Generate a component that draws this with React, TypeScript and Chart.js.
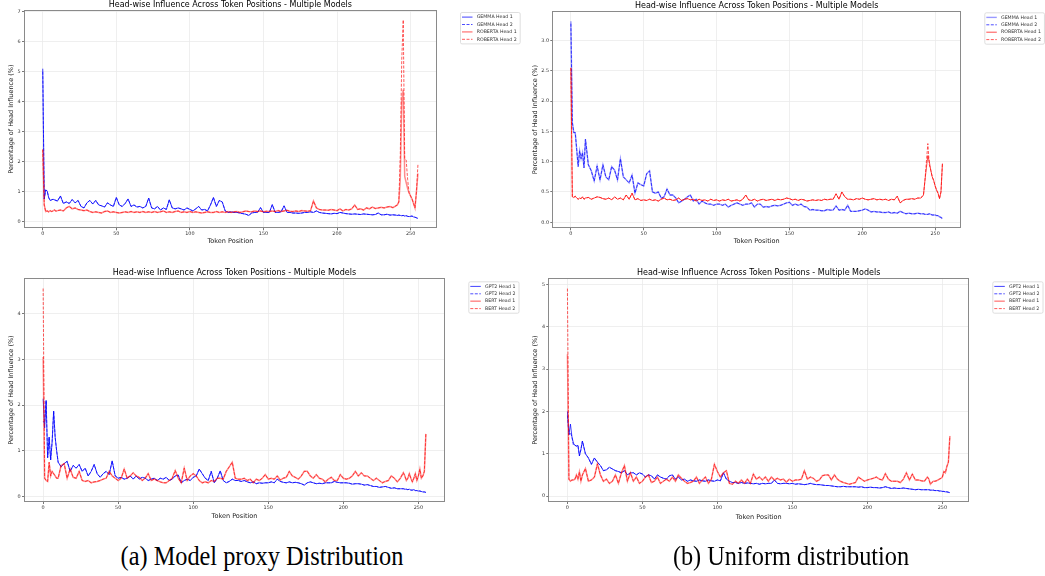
import React, { useEffect, useRef } from "react";
import { Chart, registerables } from "chart.js";

Chart.register(...registerables);

const FONT = "'DejaVu Sans', sans-serif";
const CHART_TITLE = "Head-wise Influence Across Token Positions - Multiple Models";
const X_LABEL = "Token Position";
const Y_LABEL = "Percentage of Head Influence (%)";

const tokenPositions = [
  0, 1, 2, 3, 4, 5, 6, 7, 8, 9, 10,
  12, 14, 16, 18, 20, 22, 24, 26, 28, 30,
  32, 34, 36, 38, 40, 42, 44, 46, 48, 50,
  52, 54, 56, 58, 60, 62, 64, 66, 68, 70,
  72, 74, 76, 78, 80, 82, 84, 86, 88, 90,
  92, 94, 96, 98, 100, 102, 104, 106, 108, 110,
  112, 114, 116, 118, 120, 122, 124, 126, 128, 130,
  132, 134, 136, 138, 140, 142, 144, 146, 148, 150,
  152, 154, 156, 158, 160, 162, 164, 166, 168, 170,
  172, 174, 176, 178, 180, 182, 184, 186, 188, 190,
  192, 194, 196, 198, 200, 202, 204, 206, 208, 210,
  212, 214, 216, 218, 220, 222, 224, 226, 228, 230,
  232, 234, 236, 238, 240,
  241, 242, 243, 244, 245, 246, 247, 248, 249, 250, 251, 252, 253, 254, 255,
];

const xTicks = [0, 50, 100, 150, 200, 250];
const xTickLabels = ["0", "50", "100", "150", "200", "250"];
const yTicksProxyTop = [0, 1, 2, 3, 4, 5, 6, 7];
const yTickLabelsProxyTop = ["0", "1", "2", "3", "4", "5", "6", "7"];
const yTicksUniformTop = [0, 0.5, 1, 1.5, 2, 2.5, 3];
const yTickLabelsUniformTop = ["0.0", "0.5", "1.0", "1.5", "2.0", "2.5", "3.0"];
const yTicksProxyBottom = [0, 1, 2, 3, 4];
const yTickLabelsProxyBottom = ["0", "1", "2", "3", "4"];
const yTicksUniformBottom = [0, 1, 2, 3, 4, 5];
const yTickLabelsUniformBottom = ["0", "1", "2", "3", "4", "5"];

// (a) Model proxy distribution, top: GEMMA / ROBERTA
const gemmaProxyHead1 = [
  5.1, 0.75, 1.05, 1.02, 0.8, 0.7, 0.72, 0.74, 0.72, 0.7, 0.68,
  0.85, 0.6, 0.65, 0.6, 0.73, 0.62, 0.7, 0.5, 0.45, 0.62,
  0.7, 0.58, 0.7, 0.55, 0.52, 0.48, 0.62, 0.55, 0.5, 0.8,
  0.55, 0.5, 0.6, 0.75, 0.5, 0.55, 0.48, 0.5, 0.45, 0.5,
  0.78, 0.45, 0.42, 0.5, 0.38, 0.45, 0.4, 0.72, 0.45, 0.42,
  0.45, 0.42, 0.38, 0.45, 0.4, 0.35, 0.42, 0.5, 0.38, 0.4,
  0.35, 0.55, 0.8, 0.5, 0.7, 0.65, 0.35, 0.3, 0.32, 0.3,
  0.3, 0.28, 0.26, 0.24, 0.2, 0.28, 0.3, 0.3, 0.46, 0.3,
  0.3, 0.3, 0.56, 0.3, 0.3, 0.32, 0.52, 0.3, 0.3, 0.28,
  0.28, 0.27, 0.28, 0.3, 0.3, 0.32, 0.3, 0.35, 0.3, 0.28,
  0.27, 0.26, 0.25, 0.27, 0.26, 0.3, 0.28, 0.26, 0.25, 0.24,
  0.25, 0.24, 0.23, 0.25, 0.24, 0.23, 0.22, 0.23, 0.28, 0.22,
  0.22, 0.24, 0.21, 0.22, 0.21,
  0.2, 0.21, 0.2, 0.19, 0.2, 0.18, 0.19, 0.17, 0.16, 0.17, 0.18, 0.15, 0.14, 0.12, 0.1,
];
const gemmaProxyHead2Peaks = [[0, 5.0]];
const robertaProxyHead1 = [
  2.4, 0.55, 0.33, 0.35, 0.32, 0.36, 0.33, 0.35, 0.38, 0.34, 0.36,
  0.38, 0.35, 0.45, 0.5, 0.42, 0.45, 0.4, 0.38, 0.36, 0.38,
  0.33, 0.3, 0.32, 0.3, 0.28, 0.33, 0.35, 0.3, 0.32, 0.3,
  0.28, 0.3, 0.32, 0.3, 0.33, 0.3, 0.32, 0.3, 0.33, 0.3,
  0.32, 0.3, 0.33, 0.3, 0.32, 0.35, 0.3, 0.32, 0.3, 0.33,
  0.35, 0.3, 0.32, 0.3, 0.33, 0.3, 0.32, 0.3, 0.28, 0.3,
  0.32, 0.3, 0.3, 0.33, 0.3, 0.32, 0.3, 0.33, 0.3, 0.32,
  0.33, 0.3, 0.32, 0.35, 0.33, 0.32, 0.35, 0.33, 0.35, 0.32,
  0.34, 0.33, 0.35, 0.33, 0.36, 0.33, 0.35, 0.37, 0.34, 0.33,
  0.35, 0.33, 0.36, 0.35, 0.34, 0.36, 0.68, 0.45, 0.4, 0.38,
  0.38, 0.37, 0.4, 0.38, 0.36, 0.42, 0.35, 0.4, 0.38, 0.42,
  0.55, 0.4, 0.42, 0.38, 0.45, 0.42, 0.48, 0.43, 0.45, 0.47,
  0.45, 0.48, 0.5, 0.46, 0.52,
  0.55, 0.65, 1.4, 4.0, 4.4, 1.5, 1.3, 1.1, 0.95, 0.85, 0.75, 0.6, 0.45, 1.0, 1.6,
];
const robertaProxyHead2Peaks = [[243, 2.2], [244, 5.4], [245, 6.73], [246, 2.1], [247, 2.05], [248, 1.4], [255, 1.9]];

// (b) Uniform distribution, top: GEMMA / ROBERTA
const gemmaUniformHead1 = [
  3.32, 1.65, 1.48, 1.48, 1.2, 0.92, 1.18, 1.05, 1.15, 0.9, 1.37,
  0.95, 0.85, 0.68, 0.93, 0.7, 0.95, 0.75, 0.7, 0.92, 0.86,
  0.7, 1.05, 0.75, 0.7, 0.65, 0.78, 0.48, 0.65, 0.62, 0.6,
  0.8, 0.85, 0.5, 0.48, 0.5, 0.4, 0.42, 0.55, 0.45, 0.45,
  0.4, 0.32, 0.35, 0.38, 0.42, 0.45, 0.35, 0.38, 0.3, 0.35,
  0.32, 0.3, 0.3, 0.28, 0.3, 0.3, 0.28, 0.3, 0.25, 0.28,
  0.3, 0.32, 0.3, 0.28, 0.3, 0.3, 0.32, 0.25, 0.3, 0.3,
  0.25, 0.26, 0.25, 0.27, 0.28, 0.27, 0.28, 0.3, 0.32, 0.33,
  0.28, 0.3, 0.28, 0.3, 0.26, 0.25, 0.2, 0.21, 0.2, 0.2,
  0.19, 0.19, 0.21, 0.2, 0.2, 0.27, 0.2, 0.21, 0.2, 0.28,
  0.18, 0.18, 0.18, 0.19, 0.2, 0.22, 0.2, 0.17, 0.18, 0.17,
  0.17, 0.16, 0.16, 0.17, 0.15, 0.16, 0.15, 0.18, 0.16, 0.14,
  0.15, 0.14, 0.14, 0.15, 0.14,
  0.14, 0.14, 0.13, 0.13, 0.13, 0.14, 0.13, 0.12, 0.12, 0.12, 0.11, 0.11, 0.09, 0.08, 0.06,
];
const gemmaUniformHead2Peaks = [[0, 3.28]];
const robertaUniformHead1 = [
  2.55, 0.42, 0.41, 0.43, 0.4, 0.38, 0.4, 0.39, 0.42, 0.38, 0.4,
  0.41, 0.38, 0.4, 0.42, 0.41, 0.39, 0.38, 0.4, 0.37, 0.42,
  0.38, 0.4, 0.37, 0.45, 0.38, 0.48, 0.37, 0.39, 0.36, 0.37,
  0.36, 0.38, 0.36, 0.37, 0.35, 0.38, 0.4, 0.37, 0.38, 0.36,
  0.37, 0.4, 0.36, 0.38, 0.39, 0.37, 0.38, 0.35, 0.38, 0.36,
  0.37, 0.35, 0.38, 0.36, 0.37, 0.35, 0.37, 0.36, 0.38, 0.35,
  0.36, 0.37, 0.35, 0.38, 0.45, 0.37, 0.36, 0.38, 0.35, 0.37,
  0.38, 0.36, 0.37, 0.38, 0.36, 0.38, 0.37, 0.38, 0.4, 0.39,
  0.37, 0.38, 0.36, 0.38, 0.37, 0.35, 0.36, 0.37, 0.36, 0.37,
  0.36, 0.38, 0.37, 0.38, 0.38, 0.47, 0.38, 0.5, 0.42, 0.38,
  0.38, 0.37, 0.39, 0.38, 0.4, 0.38, 0.37, 0.38, 0.39, 0.37,
  0.38, 0.37, 0.38, 0.36, 0.38, 0.37, 0.43, 0.32, 0.36, 0.38,
  0.38, 0.39, 0.38, 0.4, 0.4,
  0.42, 0.45, 0.69, 0.9, 1.1, 1.0, 0.86, 0.75, 0.69, 0.6, 0.53, 0.48, 0.39, 0.5, 0.97,
];
const robertaUniformHead2Peaks = [[244, 1.0], [245, 1.3], [246, 0.95]];

// (a) Model proxy distribution, bottom: GPT2 / BERT
const gpt2ProxyHead1 = [
  2.14, 1.5, 2.1, 0.85, 1.3, 0.8, 1.2, 1.87, 1.3, 1.0, 0.75,
  0.65, 0.72, 0.77, 0.55, 0.68, 0.62, 0.7, 0.55, 0.62, 0.45,
  0.55, 0.7, 0.5, 0.42, 0.5, 0.55, 0.48, 0.78, 0.45, 0.4,
  0.42, 0.38, 0.4, 0.45, 0.38, 0.45, 0.38, 0.42, 0.4, 0.35,
  0.38, 0.4, 0.35, 0.4, 0.38, 0.42, 0.35, 0.38, 0.45, 0.47,
  0.3, 0.35, 0.38, 0.35, 0.42, 0.45, 0.6, 0.5, 0.4, 0.35,
  0.55, 0.3, 0.4, 0.56, 0.35, 0.3, 0.33, 0.38, 0.35, 0.35,
  0.33, 0.35, 0.32, 0.3, 0.32, 0.28, 0.3, 0.29, 0.3, 0.3,
  0.32, 0.3, 0.38, 0.33, 0.31, 0.3, 0.32, 0.3, 0.31, 0.3,
  0.28, 0.25, 0.3, 0.32, 0.3, 0.28, 0.29, 0.28, 0.3, 0.3,
  0.3, 0.33, 0.31, 0.3, 0.3, 0.3, 0.29, 0.27, 0.28, 0.28,
  0.27, 0.25, 0.26, 0.24, 0.22, 0.22, 0.2, 0.21, 0.22, 0.2,
  0.18, 0.19, 0.17, 0.17, 0.17,
  0.16, 0.16, 0.15, 0.16, 0.14, 0.14, 0.15, 0.13, 0.13, 0.12, 0.12, 0.11, 0.1, 0.1, 0.09,
];
const gpt2ProxyHead2Peaks = [[0, 1.65], [1, 1.6]];
const bertProxyHead1 = [
  3.05, 0.4, 0.35, 0.33, 0.75, 0.45, 0.55, 0.5, 0.45, 0.4, 0.4,
  0.68, 0.72, 0.4, 0.6, 0.42, 0.4, 0.55, 0.35, 0.33, 0.35,
  0.3, 0.32, 0.33, 0.35, 0.38, 0.4, 0.55, 0.45, 0.4, 0.35,
  0.4, 0.6, 0.4, 0.45, 0.52, 0.45, 0.42, 0.35, 0.4, 0.5,
  0.35, 0.38, 0.35, 0.32, 0.3, 0.3, 0.35, 0.4, 0.57, 0.4,
  0.3, 0.62, 0.35, 0.45, 0.5, 0.45, 0.35, 0.3, 0.32, 0.3,
  0.35, 0.33, 0.4, 0.4, 0.38, 0.55, 0.65, 0.75, 0.4, 0.38,
  0.38, 0.4, 0.35, 0.38, 0.3, 0.38, 0.35, 0.4, 0.48, 0.38,
  0.4, 0.38, 0.45, 0.36, 0.4, 0.42, 0.55, 0.45, 0.42, 0.38,
  0.45, 0.55, 0.55, 0.45, 0.4, 0.48, 0.4, 0.38, 0.32, 0.38,
  0.42, 0.35, 0.35, 0.48, 0.4, 0.38, 0.4, 0.45, 0.55, 0.45,
  0.52, 0.45, 0.45, 0.4, 0.35, 0.4, 0.35, 0.3, 0.33, 0.35,
  0.45, 0.4, 0.32, 0.4, 0.52,
  0.45, 0.35, 0.4, 0.5, 0.4, 0.32, 0.4, 0.5, 0.35, 0.45, 0.6, 0.4, 0.45, 0.55, 1.37,
];
const bertProxyHead2Peaks = [[0, 4.55]];

// (b) Uniform distribution, bottom: GPT2 / BERT
const gpt2UniformHead1 = [
  2.0, 1.45, 1.7, 1.4, 1.25, 1.2, 1.18, 1.2, 0.95, 1.1, 1.3,
  1.0, 0.9, 0.75, 0.9, 0.8, 0.72, 0.6, 0.62, 0.68, 0.64,
  0.6, 0.58, 0.55, 0.6, 0.5, 0.55, 0.55, 0.5, 0.55, 0.52,
  0.45, 0.5, 0.48, 0.4, 0.5, 0.45, 0.42, 0.4, 0.48, 0.5,
  0.4, 0.45, 0.38, 0.4, 0.35, 0.38, 0.36, 0.35, 0.38, 0.36,
  0.35, 0.38, 0.36, 0.35, 0.38, 0.36, 0.55, 0.4, 0.35, 0.32,
  0.32, 0.3, 0.32, 0.3, 0.31, 0.3, 0.29, 0.3, 0.28, 0.3,
  0.29, 0.3, 0.3, 0.38, 0.3, 0.29, 0.3, 0.3, 0.29, 0.3,
  0.28, 0.29, 0.28, 0.27, 0.28, 0.3, 0.28, 0.27, 0.27, 0.26,
  0.25, 0.25, 0.24, 0.23, 0.22, 0.22, 0.23, 0.22, 0.22, 0.22,
  0.22, 0.21, 0.22, 0.2, 0.2, 0.21, 0.2, 0.2, 0.19, 0.2,
  0.22, 0.2, 0.18, 0.19, 0.18, 0.18, 0.19, 0.18, 0.17, 0.16,
  0.15, 0.16, 0.15, 0.15, 0.15,
  0.15, 0.14, 0.14, 0.14, 0.13, 0.13, 0.13, 0.12, 0.12, 0.11, 0.11, 0.1, 0.1, 0.09, 0.08,
];
const gpt2UniformHead2Peaks = [[0, 1.9], [2, 1.5], [4, 1.2]];
const bertUniformHead1 = [
  3.35, 0.4, 0.35, 0.38, 0.38, 0.4, 0.5, 0.4, 0.57, 0.35, 0.5,
  0.65, 0.35, 0.38, 0.45, 0.76, 0.5, 0.35, 0.4, 0.3, 0.35,
  0.5, 0.3, 0.55, 0.72, 0.35, 0.55, 0.35, 0.45, 0.3, 0.35,
  0.45, 0.5, 0.32, 0.35, 0.45, 0.3, 0.35, 0.4, 0.35, 0.45,
  0.35, 0.5, 0.42, 0.35, 0.3, 0.32, 0.35, 0.45, 0.3, 0.38,
  0.45, 0.3, 0.4, 0.75, 0.58, 0.45, 0.55, 0.6, 0.3, 0.28,
  0.35, 0.3, 0.38, 0.3, 0.4, 0.3, 0.52, 0.4, 0.45, 0.38,
  0.45, 0.35, 0.45, 0.38, 0.42, 0.38, 0.4, 0.33, 0.4, 0.35,
  0.38, 0.38, 0.4, 0.6, 0.4, 0.45, 0.42, 0.35, 0.38, 0.48,
  0.5, 0.5, 0.38, 0.5, 0.4, 0.35, 0.32, 0.3, 0.28, 0.3,
  0.32, 0.45, 0.4, 0.35, 0.38, 0.4, 0.42, 0.45, 0.4, 0.38,
  0.53, 0.4, 0.35, 0.35, 0.35, 0.32, 0.4, 0.55, 0.38, 0.52,
  0.38, 0.38, 0.36, 0.35, 0.45,
  0.4, 0.28, 0.32, 0.35, 0.35, 0.36, 0.38, 0.4, 0.42, 0.45, 0.58, 0.55, 0.7, 0.8, 1.42,
];
const bertUniformHead2Peaks = [[0, 4.9]];

const STYLES: Record<string, { color: string; width: number; dash: number[] }> = {
  blueSolid: { color: "rgba(0,0,255,0.75)", width: 1, dash: [] },
  blueSolidSoft: { color: "rgba(0,0,255,0.4)", width: 1.4, dash: [] },
  blueDash: { color: "rgba(0,0,255,0.7)", width: 1, dash: [3, 1.5] },
  redSolid: { color: "rgba(255,0,0,0.7)", width: 1, dash: [] },
  redSolidLight: { color: "rgba(255,0,0,0.45)", width: 1.5, dash: [] },
  redDash: { color: "rgba(255,0,0,0.65)", width: 1, dash: [3, 1.5] },
};

type Series = { label: string; values: number[]; peaks: number[][]; style: string };
type PanelCfg = {
  left: number; top: number; width: number; height: number;
  area: { l: number; t: number; r: number; b: number };
  titlePad: { top: number; bottom: number };
  xTitlePad: number; yTitlePad: number; legendDy: number;
  yMin: number; yMax: number; yTicks: number[]; yTickLabels: string[];
  series: Series[];
};

const PANELS: PanelCfg[] = [
  {
    left: 0, top: 0, width: 530, height: 252,
    area: { l: 24, t: 10, r: 436.7, b: 228.3 },
    titlePad: { top: 0, bottom: 0.4 }, xTitlePad: 6.7, yTitlePad: 7.9, legendDy: 2,
    yMin: -0.23, yMax: 7.06, yTicks: yTicksProxyTop, yTickLabels: yTickLabelsProxyTop,
    series: [
      { label: "GEMMA Head 1", values: gemmaProxyHead1, peaks: [], style: "blueSolid" },
      { label: "GEMMA Head 2", values: gemmaProxyHead1, peaks: gemmaProxyHead2Peaks, style: "blueDash" },
      { label: "ROBERTA Head 1", values: robertaProxyHead1, peaks: [], style: "redSolidLight" },
      { label: "ROBERTA Head 2", values: robertaProxyHead1, peaks: robertaProxyHead2Peaks, style: "redDash" },
    ],
  },
  {
    left: 525, top: 0, width: 520, height: 252,
    area: { l: 27.3, t: 11, r: 436, b: 228.3 },
    titlePad: { top: 1.2, bottom: 0.2 }, xTitlePad: 6.5, yTitlePad: 6.5, legendDy: 1.3,
    yMin: -0.1, yMax: 3.49, yTicks: yTicksUniformTop, yTickLabels: yTickLabelsUniformTop,
    series: [
      { label: "GEMMA Head 1", values: gemmaUniformHead1, peaks: [], style: "blueSolidSoft" },
      { label: "GEMMA Head 2", values: gemmaUniformHead1, peaks: gemmaUniformHead2Peaks, style: "blueDash" },
      { label: "ROBERTA Head 1", values: robertaUniformHead1, peaks: [], style: "redSolid" },
      { label: "ROBERTA Head 2", values: robertaUniformHead1, peaks: robertaUniformHead2Peaks, style: "redDash" },
    ],
  },
  {
    left: 0, top: 262, width: 530, height: 268,
    area: { l: 24, t: 16, r: 445, b: 240 },
    titlePad: { top: 5.9, bottom: 0.5 }, xTitlePad: 9.7, yTitlePad: 7.9, legendDy: 3.3,
    yMin: -0.12, yMax: 4.78, yTicks: yTicksProxyBottom, yTickLabels: yTickLabelsProxyBottom,
    series: [
      { label: "GPT2 Head 1", values: gpt2ProxyHead1, peaks: [], style: "blueSolid" },
      { label: "GPT2 Head 2", values: gpt2ProxyHead1, peaks: gpt2ProxyHead2Peaks, style: "blueDash" },
      { label: "BERT Head 1", values: bertProxyHead1, peaks: [], style: "redSolidLight" },
      { label: "BERT Head 2", values: bertProxyHead1, peaks: bertProxyHead2Peaks, style: "redDash" },
    ],
  },
  {
    left: 525, top: 262, width: 520, height: 268,
    area: { l: 23.3, t: 16, r: 444, b: 240 },
    titlePad: { top: 6.2, bottom: 0.2 }, xTitlePad: 8.9, yTitlePad: 6.5, legendDy: 3.3,
    yMin: -0.14, yMax: 5.15, yTicks: yTicksUniformBottom, yTickLabels: yTickLabelsUniformBottom,
    series: [
      { label: "GPT2 Head 1", values: gpt2UniformHead1, peaks: [], style: "blueSolid" },
      { label: "GPT2 Head 2", values: gpt2UniformHead1, peaks: gpt2UniformHead2Peaks, style: "blueDash" },
      { label: "BERT Head 1", values: bertUniformHead1, peaks: [], style: "redSolidLight" },
      { label: "BERT Head 2", values: bertUniformHead1, peaks: bertUniformHead2Peaks, style: "redDash" },
    ],
  },
];

const frameAndLegend = {
  id: "frameAndLegend",
  afterDraw(chart: any, _args: any, opts: any) {
    const { ctx, chartArea } = chart;
    ctx.save();
    // axes frame (all four spines)
    ctx.strokeStyle = "#8a8a8a";
    ctx.lineWidth = 1;
    ctx.setLineDash([]);
    ctx.strokeRect(
      Math.round(chartArea.left) + 0.5,
      Math.round(chartArea.top) + 0.5,
      Math.round(chartArea.right - chartArea.left) - 1,
      Math.round(chartArea.bottom - chartArea.top) - 1
    );
    // legend box outside the axes
    const fontSize = 4.7;
    ctx.font = `${fontSize}px ${FONT}`;
    const datasets = chart.data.datasets;
    const maxW = Math.max(...datasets.map((d: any) => ctx.measureText(d.label).width));
    const x0 = chartArea.right + 23.3;
    const y0 = chartArea.top + (opts.dy || 0);
    const rowH = 7.4;
    const padV = 0.9;
    const textOff = 16.7;
    const w = textOff + maxW + 3;
    const h = rowH * datasets.length + padV * 2;
    ctx.beginPath();
    if (ctx.roundRect) ctx.roundRect(x0 + 0.5, y0 + 0.5, w, h, 1.5);
    else ctx.rect(x0 + 0.5, y0 + 0.5, w, h);
    ctx.fillStyle = "rgba(255,255,255,0.85)";
    ctx.fill();
    ctx.strokeStyle = "#d6d6d6";
    ctx.lineWidth = 0.8;
    ctx.stroke();
    datasets.forEach((d: any, i: number) => {
      const y = y0 + padV + rowH * (i + 0.5) + 0.5;
      ctx.beginPath();
      ctx.strokeStyle = d.borderColor;
      ctx.lineWidth = d.borderWidth;
      ctx.setLineDash(d.borderDash || []);
      ctx.moveTo(x0 + 2, y);
      ctx.lineTo(x0 + 12.5, y);
      ctx.stroke();
      ctx.setLineDash([]);
      ctx.fillStyle = "#333";
      ctx.textBaseline = "middle";
      ctx.textAlign = "left";
      ctx.fillText(d.label, x0 + textOff, y);
    });
    ctx.restore();
  },
};

function buildConfig(cfg: PanelCfg): any {
  const n = cfg.series.length;
  const datasets = cfg.series.map((s, idx) => {
    const peakMap = new Map<number, number>(s.peaks.map((p) => [p[0], p[1]] as [number, number]));
    const st = STYLES[s.style];
    return {
      label: s.label,
      data: tokenPositions.map((t, i) => ({ x: t, y: peakMap.has(t) ? peakMap.get(t) : s.values[i] })),
      borderColor: st.color,
      backgroundColor: st.color,
      borderWidth: st.width,
      borderDash: st.dash,
      pointRadius: 0,
      fill: false,
      tension: 0,
      order: n - 1 - idx,
    };
  });
  const tickFont = { family: FONT, size: 4.9 };
  const labelFont = { family: FONT, size: 6.5 };
  return {
    type: "line",
    data: { datasets },
    options: {
      animation: false,
      responsive: false,
      devicePixelRatio: 1,
      layout: { padding: { left: 0, top: 0, right: cfg.width - cfg.area.r, bottom: 0 } },
      plugins: {
        legend: { display: false },
        tooltip: { enabled: false },
        title: {
          display: true,
          text: CHART_TITLE,
          fullSize: false,
          color: "#000",
          font: { family: FONT, size: 8, weight: "normal" },
          padding: cfg.titlePad,
        },
        frameAndLegend: { dy: cfg.legendDy },
      },
      scales: {
        x: {
          type: "linear",
          bounds: "data",
          min: -12.75,
          max: 267.75,
          afterBuildTicks: (s: any) => { s.ticks = xTicks.map((v) => ({ value: v })); },
          afterFit: (s: any) => { s.height = cfg.height - cfg.area.b; },
          ticks: {
            font: tickFont, color: "#333", padding: 0.5, autoSkip: false, maxRotation: 0,
            callback: (_v: any, i: number) => xTickLabels[i],
          },
          grid: { color: "#ebebeb", lineWidth: 0.8, tickLength: 2, tickColor: "#555", drawTicks: true },
          border: { display: false },
          title: { display: true, text: X_LABEL, color: "#222", font: labelFont, padding: { top: 0, bottom: cfg.xTitlePad } },
        },
        y: {
          type: "linear",
          bounds: "data",
          min: cfg.yMin,
          max: cfg.yMax,
          afterBuildTicks: (s: any) => { s.ticks = cfg.yTicks.map((v) => ({ value: v })); },
          afterFit: (s: any) => { s.width = cfg.area.l; },
          ticks: {
            font: tickFont, color: "#333", padding: 1.3, autoSkip: false,
            callback: (_v: any, i: number) => cfg.yTickLabels[i],
          },
          grid: { color: "#ebebeb", lineWidth: 0.8, tickLength: 2, tickColor: "#555", drawTicks: true },
          border: { display: false },
          title: { display: true, text: Y_LABEL, color: "#222", font: labelFont, padding: { top: cfg.yTitlePad, bottom: 0 } },
        },
      },
    },
    plugins: [frameAndLegend],
  };
}

function Panel({ cfg }: { cfg: PanelCfg }) {
  const ref = useRef<HTMLCanvasElement>(null);
  useEffect(() => {
    if (!ref.current) return;
    const chart = new Chart(ref.current, buildConfig(cfg));
    return () => chart.destroy();
  }, [cfg]);
  return (
    <canvas
      ref={ref}
      width={cfg.width}
      height={cfg.height}
      style={{ position: "absolute", left: cfg.left, top: cfg.top, width: cfg.width, height: cfg.height }}
    />
  );
}

const captionStyle: React.CSSProperties = {
  position: "absolute",
  top: 543.4,
  width: 420,
  textAlign: "center",
  fontFamily: "'Liberation Serif', 'Times New Roman', serif",
  fontSize: 27,
  lineHeight: "27px",
  color: "#000",
  whiteSpace: "nowrap",
  transform: "scaleX(0.9)",
  transformOrigin: "center",
};

export default function App() {
  return (
    <div style={{ position: "absolute", left: 0, top: 0, width: 1045, height: 576, background: "#fff", overflow: "hidden" }}>
      {PANELS.map((p, i) => (
        <Panel key={i} cfg={p} />
      ))}
      <div style={{ ...captionStyle, left: 262 - 210 }}>(a) Model proxy Distribution</div>
      <div style={{ ...captionStyle, left: 791 - 210 }}>(b) Uniform distribution</div>
    </div>
  );
}
